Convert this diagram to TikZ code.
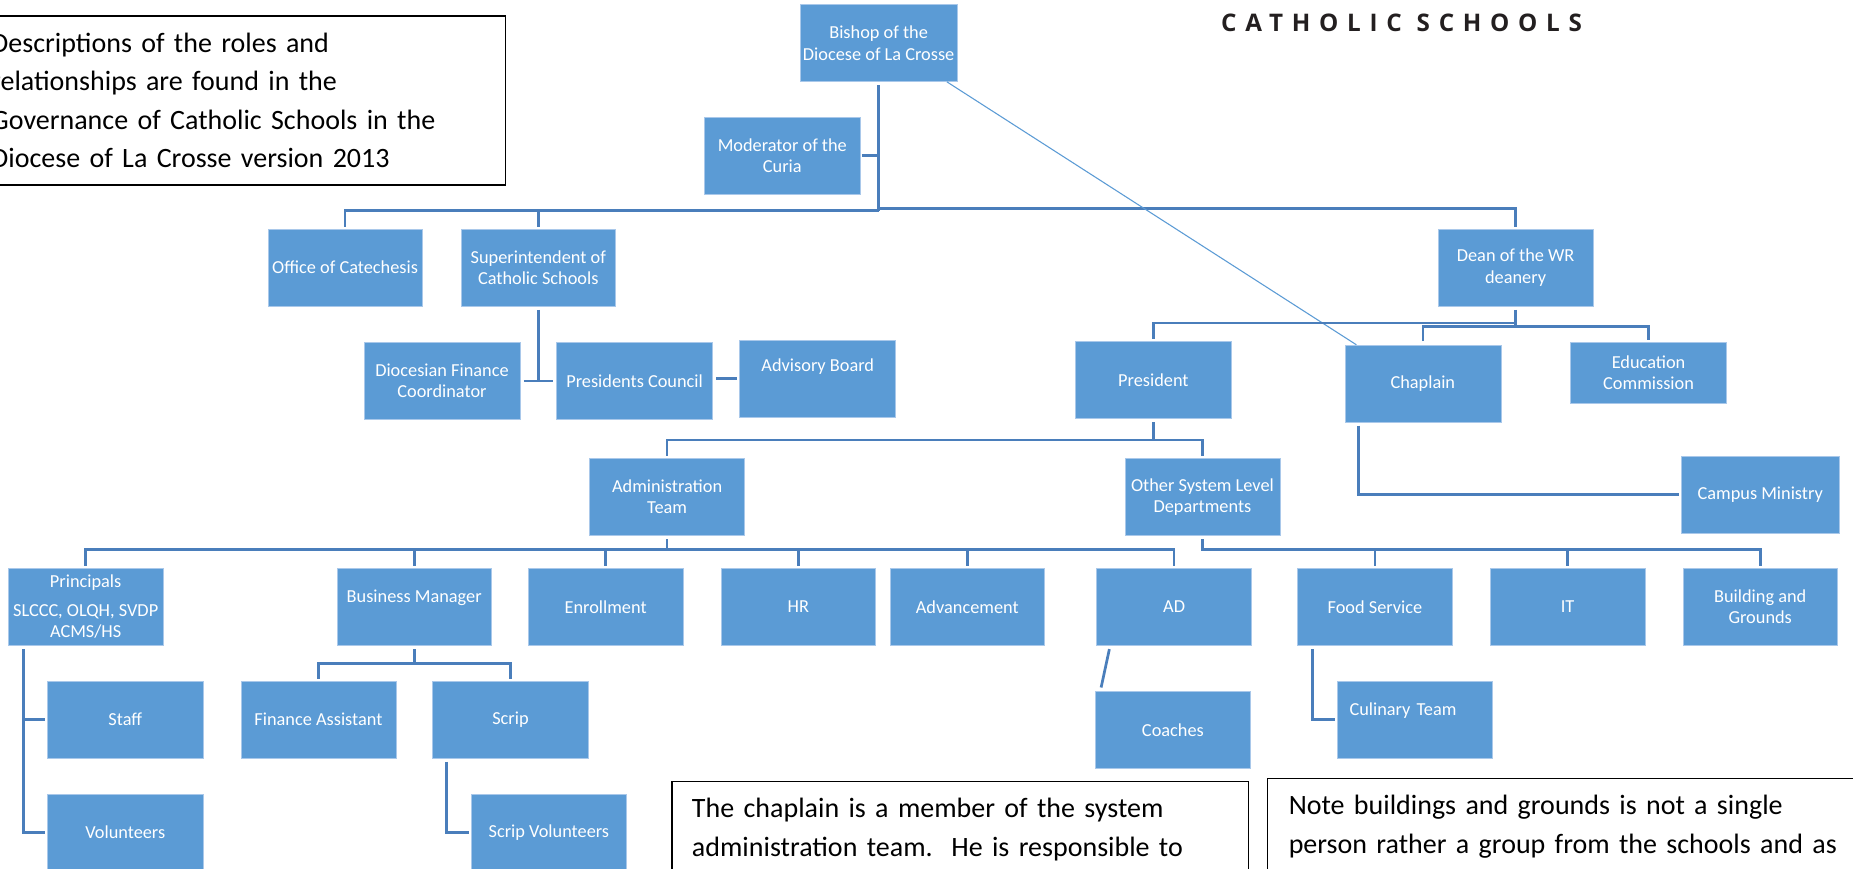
\documentclass[tikz,border=0pt]{standalone}
\usepackage{fontspec}
\setmainfont{Carlito}
\newfontfamily\logofont[LetterSpace=36]{Open Sans}
\usetikzlibrary{calc}
\definecolor{boxblue}{HTML}{5B9BD5}
\definecolor{boxedge}{HTML}{A9C8EA}
\definecolor{connblue}{HTML}{4A7EBB}
\definecolor{thinblue}{HTML}{5B9BD5}
\definecolor{logogray}{HTML}{231F20}
\tikzset{
  orgbox/.style={fill=boxblue, draw=boxedge, line width=0.5pt, text=white,
    minimum width=131pt, minimum height=65pt, inner sep=0pt, align=center,
    font=\fontsize{15.5}{18}\selectfont},
  conn/.style={draw=connblue, line width=2.3pt},
  thinconn/.style={draw=thinblue, line width=0.9pt},
  notebox/.style={draw=black, line width=1.1pt, anchor=north west, align=left,
    font=\fontsize{23.7}{32.5}\selectfont, text=black, inner ysep=14pt},
  logotext/.style={font=\logofont\bfseries\fontsize{20.5}{24}\selectfont, text=logogray, inner sep=0pt}
}
\begin{document}
\begin{tikzpicture}[x=1pt,y=-1pt]
\useasboundingbox (0,0) rectangle (1568,735);
\clip (0,0) rectangle (1568,735);
\fill[white] (0,0) rectangle (1568,735);

% notes
\node[notebox, inner xsep=16pt, text width=419pt, minimum height=143pt, inner ysep=0pt] (note1) at (-24,13)
  {Descriptions of the roles and\\relationships are found in the\\Governance of Catholic Schools in the\\Diocese of La Crosse version 2013};
\node[notebox, inner xsep=17pt, text width=454pt] (note2) at (568,661)
  {The chaplain is a member of the system\\administration team.\ \ He is responsible to};
\node[notebox, inner xsep=18pt, text width=480pt] (note3) at (1072,658.5)
  {Note buildings and grounds is not a single\\person rather a group from the schools and as};

% logo
\node[logotext] (logo) at (1186,19) {CATHOLIC SCHOOLS};

% boxes
\node[orgbox, minimum width=133pt] (bishop) at (743.5,36.5) {Bishop of the\\Diocese of La Crosse};
\node[orgbox, minimum width=132pt] (moderator) at (662,131.5) {Moderator of the\\Curia};
\node[orgbox, minimum width=130pt] (catechesis) at (292,226.5) {Office of Catechesis};
\node[orgbox] (superint) at (455.5,226.5) {Superintendent of\\Catholic Schools};
\node[orgbox] (dean) at (1282.5,226.5) {Dean of the WR\\deanery};
\node[orgbox, minimum width=132pt] (fincoord) at (374,322.5) {Diocesian Finance\\Coordinator};
\node[orgbox, minimum width=132pt] (pcouncil) at (537,322.5) {Presidents Council};
\node[orgbox, minimum width=132pt] (advisory) at (692,320.5) {Advisory Board\\[5pt]\mbox{}};
\node[orgbox, minimum width=132pt] (president) at (976,321.5) {President};
\node[orgbox, minimum width=132pt] (chaplain) at (1204,324.5) {Chaplain};
\node[orgbox, minimum width=132pt, minimum height=51pt] (educ) at (1395,315.5) {Education\\Commission};
\node[orgbox, minimum width=133pt] (campus) at (1489.5,418.5) {Campus Ministry};
\node[orgbox] (admin) at (564.5,420.5) {Administration\\Team};
\node[orgbox] (other) at (1017.5,420.5) {Other System Level\\Departments};

\node[orgbox] (principals) at (72.5,513.5) {Principals\\[6pt]SLCCC, OLQH, SVDP\\ACMS/HS};
\node[orgbox] (busmgr) at (350.5,513.5) {Business Manager\\[0pt]\mbox{}};
\node[orgbox] (enroll) at (512.5,513.5) {Enrollment};
\node[orgbox] (hr) at (675.5,513.5) {HR};
\node[orgbox] (advance) at (818.5,513.5) {Advancement};
\node[orgbox] (ad) at (993.5,513.5) {AD};
\node[orgbox] (food) at (1163.5,513.5) {Food Service};
\node[orgbox] (it) at (1326.5,513.5) {IT};
\node[orgbox] (building) at (1489.5,513.5) {Building and\\Grounds};

\node[orgbox, minimum width=132pt] (staff) at (106,609) {Staff};
\node[orgbox, minimum width=132pt] (volunteers) at (106,704.5) {Volunteers};
\node[orgbox] (finasst) at (269.5,609) {Finance Assistant};
\node[orgbox, minimum width=132pt] (scrip) at (432,609) {Scrip};
\node[orgbox] (scripvol) at (464.5,704.5) {Scrip Volunteers};
\node[orgbox] (coaches) at (992.5,617.5) {Coaches};
\node[orgbox, align=left, text width=111pt, inner xsep=10pt] (culinary) at (1197.5,609) {Culinary Team\\[0pt]\mbox{}};

% connectors: bishop level
\coordinate (b1) at ($(bishop.south)+(0,109)$);
\coordinate (b1r) at ($(bishop.south)+(0,107)$);
\draw[conn] ($(bishop.south)+(0,3)$) -- (b1);
\draw[conn] ($(moderator.east)+(1,0)$) -- (moderator.east -| b1);
\draw[conn] ($(catechesis.north)+(0,-2)$) |- (b1);
\draw[conn] ($(superint.north)+(0,-2)$) -- (superint.north |- b1);
\draw[conn] (b1r) -| ($(dean.north)+(0,-2)$);
\draw[thinconn] ($(bishop.south east)+(-9,0)$) -- ($(chaplain.north west)+(10,0)$);

% superintendent
\coordinate (s1) at (superint.south |- pcouncil.west);
\draw[conn] ($(superint.south)+(0,3)$) -- (s1);
\draw[conn] ($(fincoord.east)+(3,0)$) -- ($(pcouncil.west)+(-3,0)$);
\draw[conn] ($(advisory.west -| pcouncil.east)+(3,0)$) -- ($(advisory.west)+(-2,0)$);

% dean
\coordinate (d1) at ($(dean.south)+(0,14)$);
\coordinate (d2) at ($(dean.south)+(0,17)$);
\draw[conn] ($(dean.south)+(0,3)$) -- (d2);
\draw[conn] (d1) -| ($(president.north)+(0,-2)$);
\draw[conn] ($(chaplain.north)+(0,-3)$) |- (d2) -| ($(educ.north)+(0,-2)$);

% president
\coordinate (p1) at ($(president.south)+(0,18)$);
\draw[conn] ($(president.south)+(0,3)$) -- (p1);
\draw[conn] ($(admin.north)+(0,-2)$) |- (p1) -| ($(other.north)+(0,-2)$);

% chaplain to campus ministry
\draw[conn] ($(chaplain.south west)+(12,3)$) |- ($(campus.west)+(-2,0)$);

% administration team
\coordinate (a1) at ($(admin.south)+(0,12)$);
\draw[conn] ($(admin.south)+(0,3)$) -- (a1);
\draw[conn] ($(principals.north)+(0,-2)$) |- (a1) -| ($(ad.north)+(0,-2)$);
\foreach \n in {busmgr, enroll, hr, advance}
  \draw[conn] ($(\n.north)+(0,-2)$) -- (\n.north |- a1);

% other system level
\coordinate (o1) at ($(other.south)+(0,12)$);
\draw[conn] ($(other.south)+(0,3)$) -- (o1) -| ($(building.north)+(0,-2)$);
\foreach \n in {food, it}
  \draw[conn] ($(\n.north)+(0,-2)$) -- (\n.north |- o1);

% principals
\coordinate (pv) at ($(principals.south west)+(13,3)$);
\draw[conn] (pv) |- ($(volunteers.west)+(-2,0)$);
\draw[conn] ($(staff.west)+(-2,0)$) -- (staff.west -| pv);

% business manager
\coordinate (bm1) at ($(busmgr.south)+(0,15)$);
\draw[conn] ($(busmgr.south)+(0,3)$) -- (bm1);
\draw[conn] ($(finasst.north)+(0,-2)$) |- (bm1) -| ($(scrip.north)+(0,-2)$);
\draw[conn] ($(scrip.south west)+(12,3)$) |- ($(scripvol.west)+(-2,0)$);

% AD and food
\draw[conn] ($(ad.south west)+(11,3)$) -- ($(coaches.north west)+(5,-3)$);
\draw[conn] ($(food.south west)+(13,3)$) |- ($(culinary.west)+(-2,0)$);
\end{tikzpicture}
\end{document}
